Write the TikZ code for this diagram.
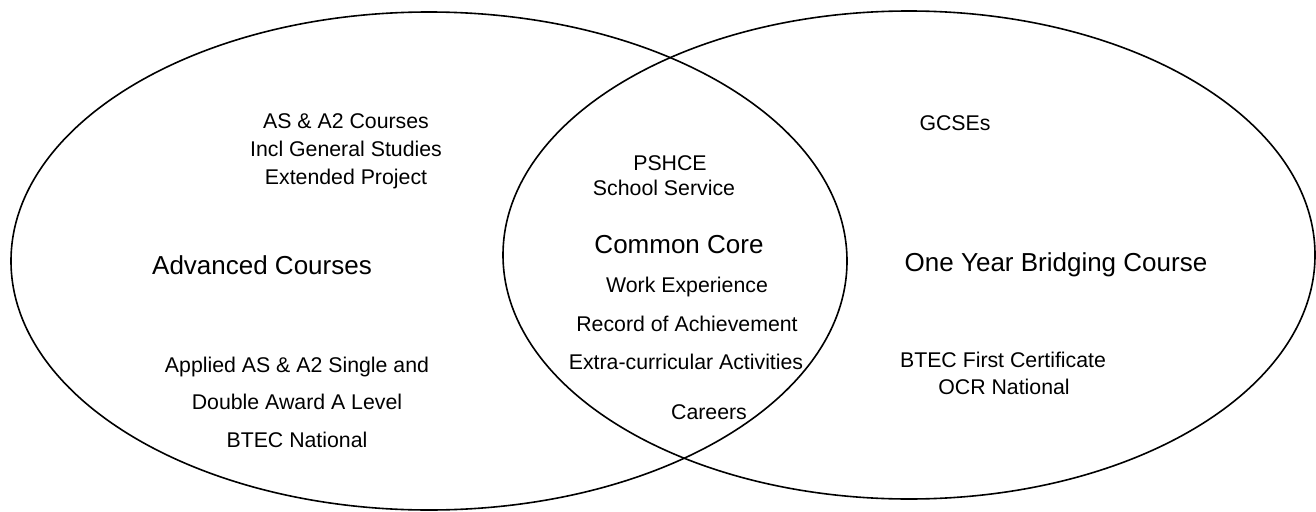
\documentclass[tikz,border=0pt]{standalone}
\usepackage{fontspec}
\setmainfont{Liberation Sans}
\usepackage{tikz}
\usetikzlibrary{positioning}

\begin{document}
\begin{tikzpicture}[x=1pt, y=-1pt]
\tikzstyle{set} = [draw, line width=1.6pt]
\tikzstyle{title} = [align=center, font=\fontsize{26}{30}\selectfont]
\tikzstyle{item} = [align=center, font=\fontsize{21.3}{28}\selectfont]

\useasboundingbox (0,0) rectangle (1316,511);

\draw [set] (429,261) ellipse [x radius=418, y radius=249];
\draw [set] (909,255) ellipse [x radius=406, y radius=244];

\node (adv) [title] at (262,265) {Advanced Courses};
\node (aslist) [item] at (346,151) {AS \& A2 Courses\\Incl General Studies\\Extended Project};
\node (applied) [item, font=\fontsize{21.3}{37.5}\selectfont] at (297,402) {Applied AS \& A2 Single and\\Double Award A Level\\BTEC National};

\node (core) [title] at (679,245) {Common Core};
\node (pshce) [item] at (670,163) {PSHCE};
\node (service) [item] at (664,188) {School Service};
\node (work) [item] at (687,287) {Work Experience};
\node (record) [item] at (687,324) {Record of Achievement};
\node (extra) [item] at (686,362) {Extra-curricular Activities};
\node (careers) [item] at (709,412) {Careers};

\node (bridge) [title] at (1056,265) {One Year Bridging Course};
\node (gcse) [item] at (955,123) {GCSEs};
\node (btec) [item] at (1003,360) {BTEC First Certificate};
\node (ocr) [item] at (1004,387) {OCR National};

\end{tikzpicture}
\end{document}
